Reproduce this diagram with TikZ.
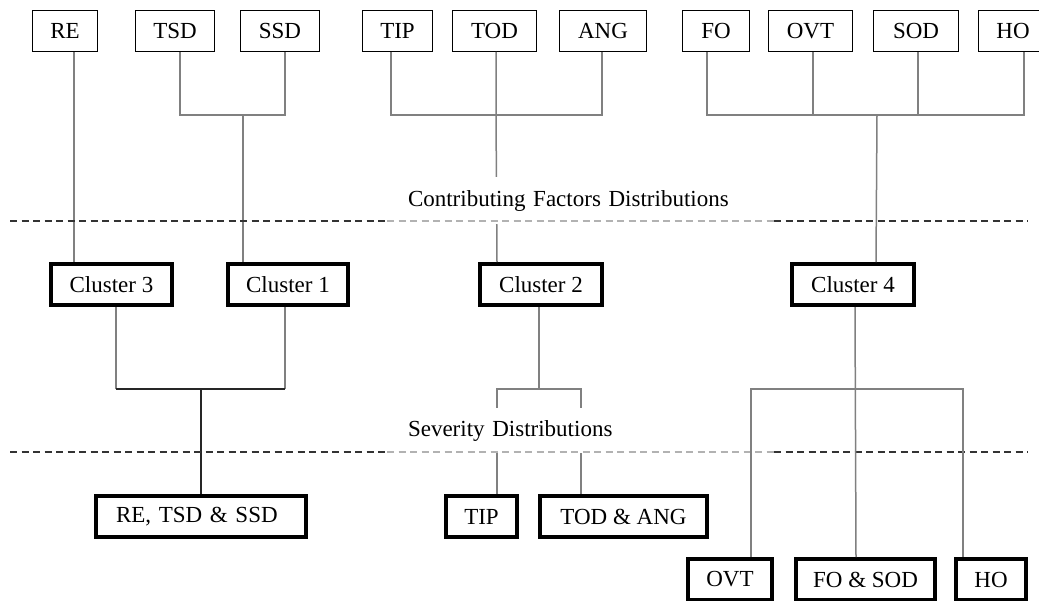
\documentclass[tikz,border=0pt]{standalone}
\usepackage{fontspec}
\setmainfont{Liberation Serif}
\begin{document}
\begin{tikzpicture}
  [x=1pt, y=-1pt, font=\fontsize{23}{27}\selectfont]
  \tikzstyle{box} = [draw=black, line width=1.4pt, inner sep=0pt, minimum height=40.5pt];
  \tikzstyle{heavy_box} = [box, line width=4pt, minimum height=41pt];
  \tikzstyle{wire} = [draw=black!50, line width=1.5pt];
  \tikzstyle{dark_wire} = [draw=black!85, line width=2pt];
  \tikzstyle{level_line} = [draw=black!80, line width=1.3pt, dash pattern=on 7pt off 4.5pt];
  \tikzstyle{faint_line} = [level_line, draw=black!30];
  \tikzstyle{level_label} = [fill=white, inner xsep=21pt, inner ysep=0pt, minimum width=387pt, text width=345pt, align=left];

  \useasboundingbox (0, 0) rectangle (1039, 600);
  \clip (0, 0) rectangle (1039, 600);

  % factors
  \node[box, minimum width=64.5pt] (re)  at (65, 31)    {RE};
  \node[box, minimum width=78.5pt] (tsd) at (175, 31)   {TSD};
  \node[box, minimum width=78.5pt] (ssd) at (280, 31)   {SSD};
  \node[box, minimum width=69.5pt] (tip) at (397.5, 31) {TIP};
  \node[box, minimum width=83.5pt] (tod) at (494.5, 31) {TOD};
  \node[box, minimum width=86.5pt] (ang) at (603, 31)   {ANG};
  \node[box, minimum width=66.5pt] (fo)  at (716, 31)   {FO};
  \node[box, minimum width=83.5pt] (ovt) at (810.5, 31) {OVT};
  \node[box, minimum width=84.5pt] (sod) at (916, 31)   {SOD};
  \node[box, minimum width=68.5pt] (ho)  at (1013, 31)  {HO};

  % clusters
  \node[heavy_box, minimum width=121pt] (c3) at (111.5, 284.5) {Cluster 3};
  \node[heavy_box, minimum width=120pt] (c1) at (288, 284.5)   {Cluster 1};
  \node[heavy_box, minimum width=122pt] (c2) at (541, 284.5)   {Cluster 2};
  \node[heavy_box, minimum width=122pt] (c4) at (853, 284.5)   {Cluster 4};

  % severity groups
  \node[heavy_box, minimum width=210pt, text width=170pt, align=left, inner xsep=18pt] (rts) at (201, 516.5) {RE, TSD \& SSD};
  \node[heavy_box, minimum width=71pt]  (tip_s)    at (481.5, 516.5) {TIP};
  \node[heavy_box, minimum width=167pt] (tod_ang)  at (623.5, 516.5) {TOD \& ANG};
  \node[heavy_box, minimum width=84pt]  (ovt_s)    at (730, 579.5)   {OVT};
  \node[heavy_box, minimum width=139pt] (fo_sod)   at (865.5, 579.5) {FO \& SOD};
  \node[heavy_box, minimum width=70pt]  (ho_s)     at (991, 579.5)   {HO};

  \coordinate (j_ts) at (243, 115);
  \coordinate (j_ta) at (496, 115);
  \coordinate (j_fh) at (877, 115);
  \coordinate (j_31) at (201, 389);
  \coordinate (j_2)  at (539, 389);
  \coordinate (j_4)  at (855, 389);

  % factors -> clusters
  \draw[wire] ([xshift=9pt]re.south) -- ([xshift=-37.5pt]c3.north);
  \draw[wire] ([xshift=5pt]tsd.south) |- (j_ts) -| ([xshift=5pt]ssd.south);
  \draw[wire] (j_ts) -- ([xshift=-45pt]c1.north);
  \draw[wire] ([xshift=-6.5pt]tip.south) |- (j_ta) -| ([xshift=-1pt]ang.south);
  \draw[wire] ([xshift=1.5pt]tod.south) -- (j_ta) -- ([xshift=-44pt]c2.north);
  \draw[wire] ([xshift=-9pt]fo.south) |- (j_fh) -| ([xshift=11pt]ho.south);
  \draw[wire] ([xshift=2.5pt]ovt.south) -- ([xshift=2.5pt]ovt.south |- j_fh);
  \draw[wire] ([xshift=2pt]sod.south) -- ([xshift=2pt]sod.south |- j_fh);
  \draw[wire] (j_fh) -- ([xshift=23pt]c4.north);

  % clusters -> severity groups
  \draw[wire] ([xshift=4.5pt]c3.south) -- ([xshift=4.5pt]c3.south |- j_31);
  \draw[wire] ([xshift=-3pt]c1.south) -- ([xshift=-3pt]c1.south |- j_31);
  \draw[dark_wire] ([xshift=4.5pt]c3.south |- j_31) -- ([xshift=-3pt]c1.south |- j_31);
  \draw[dark_wire] (j_31) -- (rts.north);
  \draw[wire] ([xshift=-2pt]c2.south) -- (j_2);
  \draw[wire] ([xshift=15.5pt]tip_s.north) |- (j_2) -| ([xshift=-42.5pt]tod_ang.north);

  % levels
  \node[level_label, minimum height=47pt] (cfd) at (580.5, 200.5) {Contributing Factors Distributions};
  \node[level_label, minimum height=45pt] (sev) at (580.5, 430.5) {Severity Distributions};

  \draw[level_line] (10, 221) -- (387, 221);
  \draw[faint_line] (387, 221) -- (774, 221);
  \draw[level_line] (774, 221) -- (1028, 221);

  \draw[level_line] (10, 452) -- (387, 452);
  \draw[faint_line] (387, 452) -- (774, 452);
  \draw[level_line] (774, 452) -- (1028, 452);

  % cluster 4 fork, above the label box
  \draw[wire] ([xshift=2pt]c4.south) -- ([xshift=-9.5pt]fo_sod.north);
  \draw[wire] ([xshift=21pt]ovt_s.north) |- (j_4) -| ([xshift=-28pt]ho_s.north);

\end{tikzpicture}
\end{document}
